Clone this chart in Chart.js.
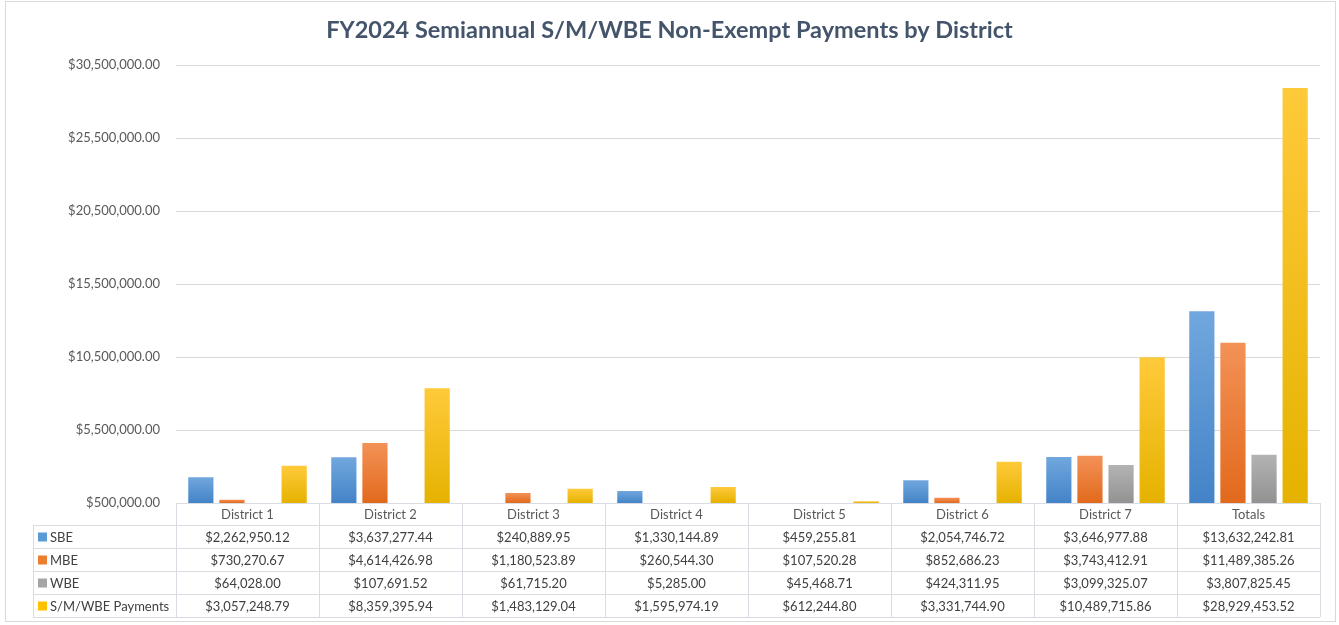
<!DOCTYPE html>
<html>
<head>
<meta charset="utf-8">
<script src="https://cdn.jsdelivr.net/npm/chart.js@4.4.1/dist/chart.umd.min.js"></script>
<style>
    html, body { margin: 0; padding: 0; background: #fff; }
    #wrap { position: relative; width: 1339px; height: 625px; }
    #frame { position: absolute; left: 5px; top: 1px; width: 1331px; height: 621px; border: 1px solid #d9d9d9; box-sizing: border-box; }
</style>
</head>
<body>
<div id="wrap">
    <div id="frame"></div>
    <canvas id="payments_chart" width="1339" height="625"></canvas>
</div>
<script>
const categories = ['District 1', 'District 2', 'District 3', 'District 4', 'District 5', 'District 6', 'District 7', 'Totals'];
const sbeValues = [2262950.12, 3637277.44, 240889.95, 1330144.89, 459255.81, 2054746.72, 3646977.88, 13632242.81];
const mbeValues = [730270.67, 4614426.98, 1180523.89, 260544.30, 107520.28, 852686.23, 3743412.91, 11489385.26];
const wbeValues = [64028.00, 107691.52, 61715.20, 5285.00, 45468.71, 424311.95, 3099325.07, 3807825.45];
const smwbeValues = [3057248.79, 8359395.94, 1483129.04, 1595974.19, 612244.80, 3331744.90, 10489715.86, 28929453.52];
const yTicks = [500000, 5500000, 10500000, 15500000, 20500000, 25500000, 30500000];

const FONT = 'Lato, "Open Sans", sans-serif';

function money(v) {
    return '$' + v.toLocaleString('en-US', {minimumFractionDigits: 2, maximumFractionDigits: 2});
}

// light top, darker bottom, one gradient per bar
function barGradient(top, bottom) {
    return function (context) {
        const chart = context.chart;
        if (!chart.chartArea || !context.parsed) {
            return bottom;
        }
        const y = chart.scales.y;
        const yTop = y.getPixelForValue(context.parsed.y);
        const yBase = chart.chartArea.bottom;
        if (!isFinite(yTop) || yBase - yTop < 1) {
            return bottom;
        }
        const g = chart.ctx.createLinearGradient(0, yTop, 0, yBase);
        g.addColorStop(0, top);
        g.addColorStop(1, bottom);
        return g;
    };
}

const seriesInfo = [
    {label: 'SBE', data: sbeValues, top: '#71a7de', bottom: '#4383c7', key: '#5b9bd5'},
    {label: 'MBE', data: mbeValues, top: '#f39257', bottom: '#e2691c', key: '#ed7d31'},
    {label: 'WBE', data: wbeValues, top: '#b3b3b3', bottom: '#929292', key: '#a5a5a5'},
    {label: 'S/M/WBE Payments', data: smwbeValues, top: '#ffca3a', bottom: '#e5b200', key: '#ffc000'},
];

// data table under the plot, columns follow the x scale
const dataTablePlugin = {
    id: 'dataTable',
    afterDraw(chart) {
        const ctx = chart.ctx;
        const area = chart.chartArea;
        const x = chart.scales.x;
        const colW = (area.right - area.left) / categories.length;
        const legendLeft = 33;
        const rowH = 23;
        const headTop = area.bottom;
        const headH = 22;
        const rowsTop = headTop + headH;
        const rowsBottom = rowsTop + rowH * seriesInfo.length;

        ctx.save();
        ctx.strokeStyle = '#d9dde3';
        ctx.lineWidth = 1;
        ctx.beginPath();
        // header row lines
        ctx.moveTo(area.left, headTop + 0.5);
        ctx.lineTo(area.right, headTop + 0.5);
        for (let r = 0; r <= seriesInfo.length; r++) {
            const yy = Math.round(rowsTop + r * rowH) + 0.5;
            ctx.moveTo(legendLeft, yy);
            ctx.lineTo(area.right, yy);
        }
        for (let c = 0; c <= categories.length; c++) {
            const xx = Math.round(area.left + c * colW) + 0.5;
            ctx.moveTo(xx, headTop);
            ctx.lineTo(xx, rowsBottom);
        }
        ctx.moveTo(legendLeft + 0.5, rowsTop);
        ctx.lineTo(legendLeft + 0.5, rowsBottom);
        ctx.stroke();

        ctx.textBaseline = 'middle';
        ctx.textAlign = 'center';
        ctx.font = '13px ' + FONT;
        ctx.fillStyle = '#595959';
        categories.forEach(function (cat, i) {
            ctx.fillText(cat, x.getPixelForValue(i), headTop + headH / 2 + 1);
        });

        seriesInfo.forEach(function (s, r) {
            const cy = rowsTop + r * rowH + rowH / 2 + 1;
            ctx.fillStyle = s.key;
            ctx.fillRect(legendLeft + 5, cy - 5, 9, 9);
            ctx.textAlign = 'left';
            ctx.fillStyle = '#404040';
            ctx.fillText(s.label, legendLeft + 17, cy);
            ctx.textAlign = 'center';
            s.data.forEach(function (v, i) {
                ctx.fillText(money(v), x.getPixelForValue(i), cy);
            });
        });
        ctx.restore();
    },
};

const ctx = document.getElementById('payments_chart').getContext('2d');

new Chart(ctx, {
    type: 'bar',
    data: {
        labels: categories,
        datasets: seriesInfo.map(function (s) {
            return {
                label: s.label,
                data: s.data,
                backgroundColor: barGradient(s.top, s.bottom),
                categoryPercentage: 0.87,
                barPercentage: 0.81,
            };
        }),
    },
    options: {
        responsive: false,
        animation: false,
        layout: {
            padding: {left: 19, right: 19, top: 0, bottom: 122},
        },
        plugins: {
            legend: {display: false},
            tooltip: {enabled: false},
            title: {
                display: true,
                text: 'FY2024 Semiannual S/M/WBE Non-Exempt Payments by District',
                color: '#44546a',
                font: {family: FONT, size: 23.5, weight: 'bold'},
                padding: {top: 16, bottom: 21},
            },
        },
        scales: {
            x: {
                display: false,
            },
            y: {
                min: 500000,
                max: 30500000,
                afterBuildTicks: function (scale) {
                    scale.ticks = yTicks.map(function (v) { return {value: v}; });
                },
                afterFit: function (scale) {
                    scale.width = 157;
                },
                border: {display: false},
                grid: {color: '#d9d9d9', drawTicks: false},
                ticks: {
                    padding: 16,
                    color: '#595959',
                    font: {family: FONT, size: 13},
                    callback: function (value) {
                        return money(value);
                    },
                },
            },
        },
    },
    plugins: [dataTablePlugin],
});
</script>
</body>
</html>
